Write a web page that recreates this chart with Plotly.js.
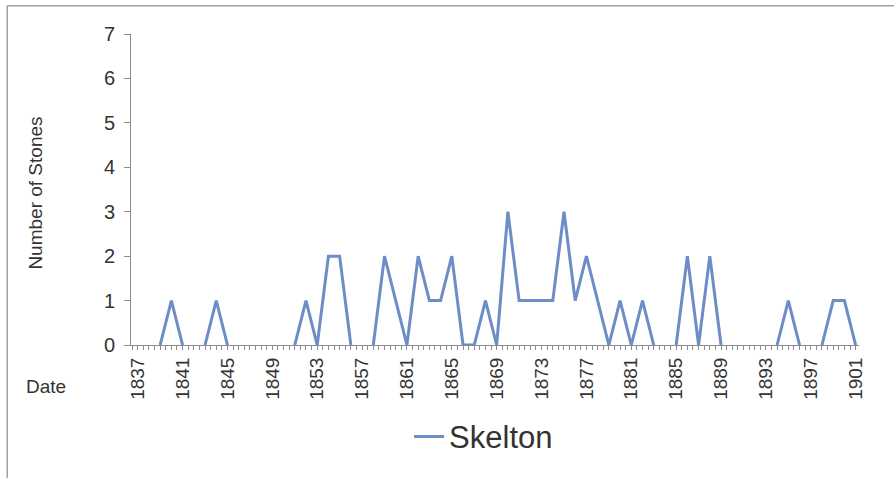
<!DOCTYPE html>
<html>
<head>
<meta charset="utf-8">
<script src="https://cdn.plot.ly/plotly-3.0.1.min.js"></script>
<style>html,body{margin:0;padding:0;background:#fff;}#chart{width:894px;height:478px;}</style>
</head>
<body>
<div id="chart"></div>
<script>
// Years (categories) and stone counts; null = no value (gap in line)
const years = [];
for (let y = 1837; y <= 1901; y++) years.push(y);
const stones = [
  null, null, 0, 1, 0, null, 0, 1, 0, null,      // 1837-1846
  null, null, null, null, 0, 1, 0, 2, 2, 0,      // 1847-1856
  null, 0, 2, 1, 0, 2, 1, 1, 2, 0,               // 1857-1866
  0, 1, 0, 3, 1, 1, 1, 1, 3, 1,                  // 1867-1876
  2, 1, 0, 1, 0, 1, 0, null, 0, 2,               // 1877-1886
  0, 2, 0, null, null, null, null, 0, 1, 0,      // 1887-1896
  null, 0, 1, 1, 0                               // 1897-1901
];
const tickYears = [1837,1841,1845,1849,1853,1857,1861,1865,1869,1873,1877,1881,1885,1889,1893,1897,1901];
const seriesName = 'Skelton';

const font = 'Liberation Sans, Arial, sans-serif';
const axisColor = '#8c8c8c';
const textColor = '#333333';

const trace = {
  x: years, y: stones, type: 'scatter', mode: 'lines', name: seriesName,
  connectgaps: false,
  line: {color: '#6d8dc6', width: 3}
};

const layout = {
  width: 894, height: 478,
  margin: {l: 131, r: 35, t: 34, b: 133},
  paper_bgcolor: '#ffffff', plot_bgcolor: '#ffffff',
  font: {family: font, color: textColor, size: 19},
  showlegend: true,
  legend: {orientation: 'h', x: 0.382, xanchor: 'left', y: -0.295, yanchor: 'middle',
           font: {size: 31, color: textColor}, bgcolor: 'rgba(0,0,0,0)'},
  xaxis: {
    type: 'linear', range: [1836.4, 1901.3], tickmode: 'array', tickvals: tickYears,
    ticktext: tickYears.map(String), tickangle: -90,
    showline: true, linecolor: axisColor, linewidth: 1, showgrid: false, zeroline: false,
    ticks: 'outside', ticklen: 4, tickcolor: axisColor,
    minor: {dtick: 0.5, tick0: 1837, ticks: 'outside', ticklen: 4, tickcolor: axisColor, showgrid: false},
    tickfont: {size: 19, color: textColor}, fixedrange: true
  },
  yaxis: {
    range: [0, 7], dtick: 1, showline: true, linecolor: axisColor, linewidth: 1,
    showgrid: false, zeroline: false, ticks: 'outside', ticklen: 6, tickcolor: axisColor,
    ticklabelstandoff: 5,
    tickfont: {size: 20, color: textColor}, fixedrange: true
  },
  annotations: [
    {text: 'Number of Stones', xref: 'paper', yref: 'paper', x: -0.1305, y: 0.49,
     textangle: -90, showarrow: false, xanchor: 'center', yanchor: 'middle',
     font: {size: 19, color: textColor}},
    {text: 'Date', xref: 'paper', yref: 'paper', x: -0.117, y: -0.135,
     showarrow: false, xanchor: 'center', yanchor: 'middle',
     font: {size: 19, color: textColor}}
  ],
  shapes: [
    {type: 'line', xref: 'paper', yref: 'paper', x0: -0.170, x1: 1.06, y0: 1.091, y1: 1.091,
     line: {color: '#a0a0a0', width: 1.5}},
    {type: 'line', xref: 'paper', yref: 'paper', x0: -0.170, x1: -0.170, y0: 1.091, y1: -0.43,
     line: {color: '#a0a0a0', width: 1.5}}
  ]
};

Plotly.newPlot('chart', [trace], layout, {displayModeBar: false, staticPlot: true});
</script>
</body>
</html>
